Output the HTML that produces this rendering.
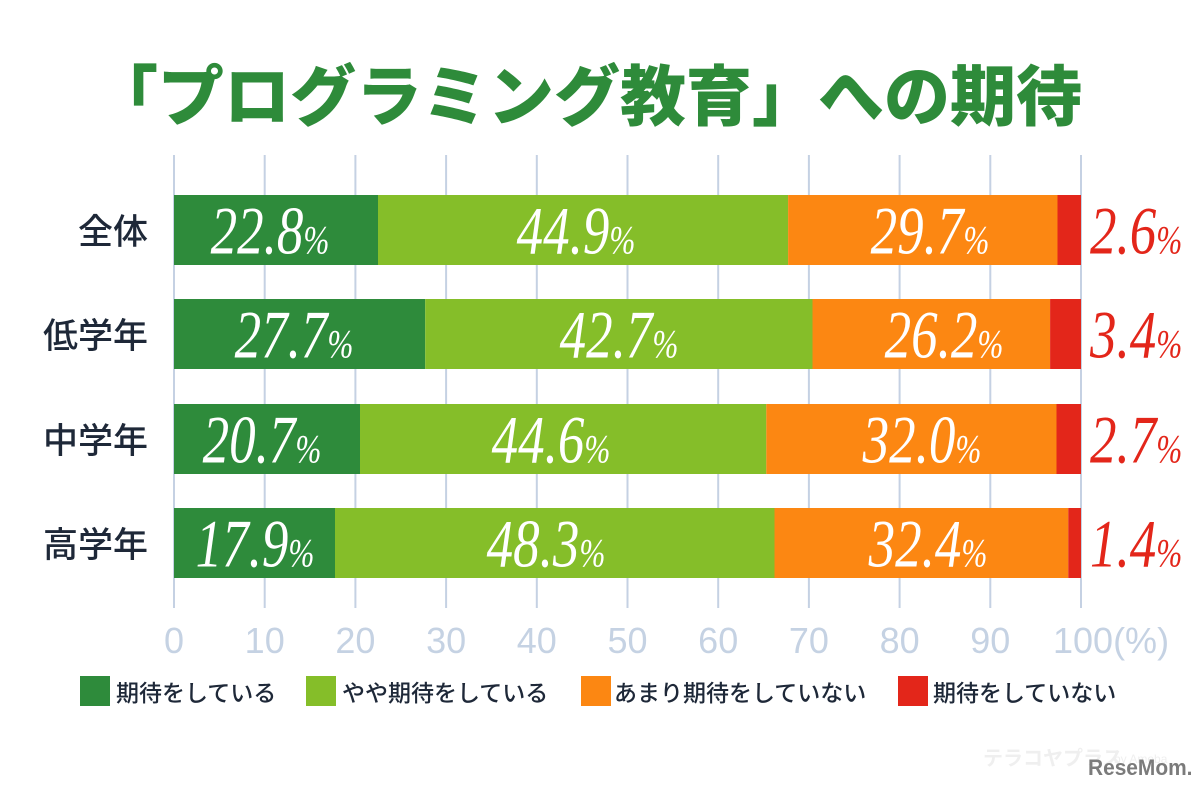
<!DOCTYPE html>
<html>
<head>
<meta charset="utf-8">
<style>
html,body{margin:0;padding:0;background:#fff;}
svg{display:block;}
.jp{font-family:"Liberation Sans","Noto Sans CJK JP",sans-serif;}
.num{font-family:"Liberation Serif",serif;font-style:italic;fill:#fff;font-size:68px;}
.rnum{font-family:"Liberation Serif",serif;font-style:italic;fill:#e3261a;font-size:68px;}
.tick{font-family:"Liberation Sans",sans-serif;font-size:36px;fill:#c5d2e3;}
</style>
</head>
<body>
<svg width="1200" height="790" viewBox="0 0 1200 790" xmlns="http://www.w3.org/2000/svg">
<rect width="1200" height="790" fill="#fff"/>

<!-- Title -->
<text x="92" y="120" class="jp" font-size="66" font-weight="900" fill="#2e8b3a">「プログラミング教育」への期待</text>

<!-- Gridlines -->
<g stroke="#c5d1e3" stroke-width="2">
<line x1="174" y1="155" x2="174" y2="608"/>
<line x1="264.7" y1="155" x2="264.7" y2="608"/>
<line x1="355.4" y1="155" x2="355.4" y2="608"/>
<line x1="446.1" y1="155" x2="446.1" y2="608"/>
<line x1="536.8" y1="155" x2="536.8" y2="608"/>
<line x1="627.5" y1="155" x2="627.5" y2="608"/>
<line x1="718.2" y1="155" x2="718.2" y2="608"/>
<line x1="808.9" y1="155" x2="808.9" y2="608"/>
<line x1="899.6" y1="155" x2="899.6" y2="608"/>
<line x1="990.3" y1="155" x2="990.3" y2="608"/>
<line x1="1081" y1="155" x2="1081" y2="608"/>
</g>

<!-- Row labels -->
<g class="jp" font-size="35" font-weight="500" fill="#1e2838" text-anchor="end">
<text x="148" y="244">全体</text>
<text x="148" y="348">低学年</text>
<text x="148" y="453">中学年</text>
<text x="148" y="557">高学年</text>
</g>

<!-- Bars -->
<rect x="174" y="195" width="204" height="70" fill="#2e8b3b"/>
<rect x="378" y="195" width="410.1" height="70" fill="#85be29"/>
<rect x="788.1" y="195" width="269.4" height="70" fill="#fc8712"/>
<rect x="1057.5" y="195" width="23.5" height="70" fill="#e3261a"/>

<rect x="174" y="299" width="251.2" height="70" fill="#2e8b3b"/>
<rect x="425.2" y="299" width="387.3" height="70" fill="#85be29"/>
<rect x="812.5" y="299" width="237.6" height="70" fill="#fc8712"/>
<rect x="1050.1" y="299" width="30.9" height="70" fill="#e3261a"/>

<rect x="174" y="404" width="186" height="70" fill="#2e8b3b"/>
<rect x="360" y="404" width="406.3" height="70" fill="#85be29"/>
<rect x="766.3" y="404" width="290.2" height="70" fill="#fc8712"/>
<rect x="1056.5" y="404" width="24.5" height="70" fill="#e3261a"/>

<rect x="174" y="508" width="161" height="70" fill="#2e8b3b"/>
<rect x="335" y="508" width="439.5" height="70" fill="#85be29"/>
<rect x="774.5" y="508" width="293.8" height="70" fill="#fc8712"/>
<rect x="1068.3" y="508" width="12.7" height="70" fill="#e3261a"/>

<!-- Bar value labels -->
<g text-anchor="middle">
<text class="num" transform="translate(270,253.5) scale(0.78,1)">22.8<tspan font-size="40">%</tspan></text>
<text class="num" transform="translate(576,253.5) scale(0.78,1)">44.9<tspan font-size="40">%</tspan></text>
<text class="num" transform="translate(930,253.5) scale(0.78,1)">29.7<tspan font-size="40">%</tspan></text>

<text class="num" transform="translate(294,357.5) scale(0.78,1)">27.7<tspan font-size="40">%</tspan></text>
<text class="num" transform="translate(619,357.5) scale(0.78,1)">42.7<tspan font-size="40">%</tspan></text>
<text class="num" transform="translate(944,357.5) scale(0.78,1)">26.2<tspan font-size="40">%</tspan></text>

<text class="num" transform="translate(262,462.5) scale(0.78,1)">20.7<tspan font-size="40">%</tspan></text>
<text class="num" transform="translate(551,462.5) scale(0.78,1)">44.6<tspan font-size="40">%</tspan></text>
<text class="num" transform="translate(922,462.5) scale(0.78,1)">32.0<tspan font-size="40">%</tspan></text>

<text class="num" transform="translate(255,566.5) scale(0.78,1)">17.9<tspan font-size="40">%</tspan></text>
<text class="num" transform="translate(546,566.5) scale(0.78,1)">48.3<tspan font-size="40">%</tspan></text>
<text class="num" transform="translate(928,566.5) scale(0.78,1)">32.4<tspan font-size="40">%</tspan></text>
</g>
<g text-anchor="start">
<text class="rnum" transform="translate(1090,253.5) scale(0.78,1)">2.6<tspan font-size="40">%</tspan></text>
<text class="rnum" transform="translate(1090,357.5) scale(0.78,1)">3.4<tspan font-size="40">%</tspan></text>
<text class="rnum" transform="translate(1090,462.5) scale(0.78,1)">2.7<tspan font-size="40">%</tspan></text>
<text class="rnum" transform="translate(1090,566.5) scale(0.78,1)">1.4<tspan font-size="40">%</tspan></text>
</g>

<!-- Tick labels -->
<g class="tick" text-anchor="middle">
<text x="174" y="653">0</text>
<text x="264.7" y="653">10</text>
<text x="355.4" y="653">20</text>
<text x="446.1" y="653">30</text>
<text x="536.8" y="653">40</text>
<text x="627.5" y="653">50</text>
<text x="718.2" y="653">60</text>
<text x="808.9" y="653">70</text>
<text x="899.6" y="653">80</text>
<text x="990.3" y="653">90</text>
</g>
<text class="tick" x="1053" y="653">100(%)</text>

<!-- Legend -->
<rect x="80" y="676" width="30" height="30" fill="#2e8b3b"/>
<rect x="306" y="676" width="30" height="30" fill="#85be29"/>
<rect x="581" y="676" width="30" height="30" fill="#fc8712"/>
<rect x="898" y="676" width="30" height="30" fill="#e3261a"/>
<g class="jp" font-size="23" font-weight="500" fill="#1e2838">
<text x="116" y="701">期待をしている</text>
<text x="342" y="701">やや期待をしている</text>
<text x="614" y="701">あまり期待をしていない</text>
<text x="933" y="701">期待をしていない</text>
</g>

<!-- Watermark -->
<text x="983" y="765" class="jp" font-size="20" font-weight="700" fill="#efefef">テラコヤプラス</text>
<text x="1114" y="763" font-family="Liberation Sans,sans-serif" font-size="12" fill="#efefef">by Ameba</text>
<text font-family="Liberation Sans,sans-serif" font-size="22" font-weight="700" fill="#7b7b7b" transform="translate(1088,775) scale(0.95,1)">ReseMom.</text>
</svg>
</body>
</html>
